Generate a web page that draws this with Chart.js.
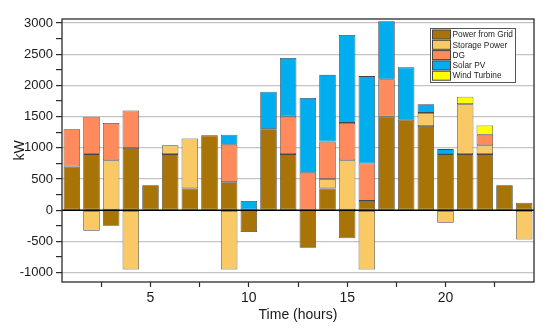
<!DOCTYPE html>
<html>
<head>
<meta charset="utf-8">
<script src="https://cdn.jsdelivr.net/npm/chart.js@4/dist/chart.umd.min.js"></script>
<style>
  html, body { margin: 0; padding: 0; background: #fff; }
  #wrap { width: 550px; height: 331px; }
</style>
</head>
<body>
<div id="wrap"><canvas id="energyChart"></canvas></div>
<script>
// hourly values (kW)
const hours = [1, 2, 3, 4, 5, 6, 7, 8, 9, 10, 11, 12, 13, 14, 15, 16, 17, 18, 19, 20, 21, 22, 23, 24];
const gridPower = [700, 900, -250, 1000, 400, 900, 350, 1200, 450, -350, 1300, 900, -600, 350, -450, 150, 1500, 1450, 1350, 900, 900, 900, 400, 120];
const storagePower = [null, -330, 800, -950, null, 140, 800, null, -950, null, null, null, null, 150, 800, -950, null, null, 210, -200, 800, 140, null, -470];
const dgPower = [600, 600, 600, 600, null, null, null, null, 600, null, null, 600, 600, 600, 600, 600, 600, null, null, null, null, 170, null, null];
const solarPower = [null, null, null, null, null, null, null, null, 160, 150, 600, 940, 1200, 1070, 1410, 1400, 930, 840, 140, 80, null, null, null, null];
const windPower = [null, null, null, null, null, null, null, null, null, null, null, null, null, null, null, null, null, null, null, null, 120, 150, null, null];

const seriesNames = ['Power from Grid', 'Storage Power', 'DG', 'Solar PV', 'Wind Turbine'];
const seriesColors = ['#A97407', '#F9C965', '#FF8A5C', '#00AEEF', '#FFFF00'];

const xTicks = [2.5, 5, 7.5, 10, 12.5, 15, 17.5, 20, 22.5];
const yTicks = [-1000, -750, -500, -250, 0, 250, 500, 750, 1000, 1250, 1500, 1750, 2000, 2250, 2500, 2750, 3000];

const FONT = "'Liberation Sans', Arial, sans-serif";

// frame, zero line and the boxed legend inside the plot
const framePlugin = {
    id: 'frame',
    afterDatasetsDraw(chart) {
        const { ctx, chartArea: a, scales } = chart;
        const y0 = scales.y.getPixelForValue(0);
        ctx.save();
        ctx.strokeStyle = '#000';
        ctx.lineWidth = 1.5;
        ctx.beginPath();
        ctx.moveTo(a.left, y0);
        ctx.lineTo(a.right, y0);
        ctx.stroke();
        ctx.strokeStyle = '#2b2b2b';
        ctx.lineWidth = 1.3;
        ctx.strokeRect(a.left, a.top, a.right - a.left, a.bottom - a.top);

        // legend
        const lx = 430, ly = 28, lw = 85, lh = 54, row = 10.3;
        ctx.fillStyle = '#fff';
        ctx.fillRect(lx, ly, lw, lh);
        ctx.strokeStyle = '#555';
        ctx.lineWidth = 1;
        ctx.strokeRect(lx + 0.5, ly + 0.5, lw, lh);
        ctx.font = '8.3px ' + FONT;
        ctx.textBaseline = 'middle';
        chart.data.datasets.forEach((ds, i) => {
            const cy = ly + 6.5 + i * row;
            ctx.fillStyle = ds.backgroundColor;
            ctx.fillRect(lx + 2, cy - 4.5, 18, 9);
            ctx.strokeStyle = '#444';
            ctx.strokeRect(lx + 2.5, cy - 4.5, 18, 9);
            ctx.fillStyle = '#222';
            ctx.fillText(ds.label, lx + 22.5, cy + 0.5);
        });
        ctx.restore();
    }
};

const makeSet = (i, values) => ({
    label: seriesNames[i],
    data: values,
    backgroundColor: seriesColors[i],
    borderColor: '#454545',
    borderWidth: 0.8,
    borderSkipped: false,
    grouped: false,
    categoryPercentage: 1,
    barPercentage: 0.84
});

const chart = new Chart(document.getElementById('energyChart'), {
    type: 'bar',
    data: {
        labels: hours,
        datasets: [
            makeSet(0, gridPower),
            makeSet(1, storagePower),
            makeSet(2, dgPower),
            makeSet(3, solarPower),
            makeSet(4, windPower)
        ]
    },
    options: {
        responsive: true,
        maintainAspectRatio: false,
        animation: false,
        layout: { padding: { top: 19, right: 16, left: 0, bottom: 0 } },
        plugins: { legend: { display: false }, tooltip: { enabled: false } },
        scales: {
            x: {
                type: 'linear',
                offset: false,
                min: 0.5,
                max: 24.5,
                afterBuildTicks: (scale) => { scale.ticks = xTicks.map(v => ({ value: v })); },
                afterFit: (scale) => { scale.height = 49; },
                grid: { drawOnChartArea: false, offset: false, tickLength: 5, tickColor: '#2b2b2b', tickWidth: 1.2 },
                border: { display: false },
                ticks: {
                    autoSkip: false,
                    maxRotation: 0,
                    padding: 3,
                    color: '#1a1a1a',
                    font: { family: FONT, size: 14 },
                    callback: (v) => (Number.isInteger(v) ? v : '')
                },
                title: {
                    display: true,
                    text: 'Time (hours)',
                    color: '#1a1a1a',
                    font: { family: FONT, size: 14 },
                    padding: { top: 0, bottom: 7 }
                }
            },
            y: {
                stacked: true,
                min: -1150,
                max: 3065,
                afterBuildTicks: (scale) => { scale.ticks = yTicks.map(v => ({ value: v })); },
                afterFit: (scale) => { scale.width = 62; },
                grid: {
                    tickLength: 6,
                    tickColor: '#2b2b2b',
                    tickWidth: 1.2,
                    color: (c) => (c.tick && c.tick.value % 500 === 0 && c.tick.value !== 0 ? '#c4c4c4' : 'rgba(0,0,0,0)'),
                    lineWidth: 1.2
                },
                border: { display: false },
                ticks: {
                    autoSkip: false,
                    padding: 3,
                    color: '#1a1a1a',
                    font: { family: FONT, size: 13 },
                    callback: (v) => (v % 500 === 0 ? v : '')
                },
                title: {
                    display: true,
                    text: 'kW',
                    color: '#1a1a1a',
                    font: { family: FONT, size: 14 },
                    padding: { top: 12, bottom: 0 }
                }
            }
        }
    },
    plugins: [framePlugin]
});
</script>
</body>
</html>
